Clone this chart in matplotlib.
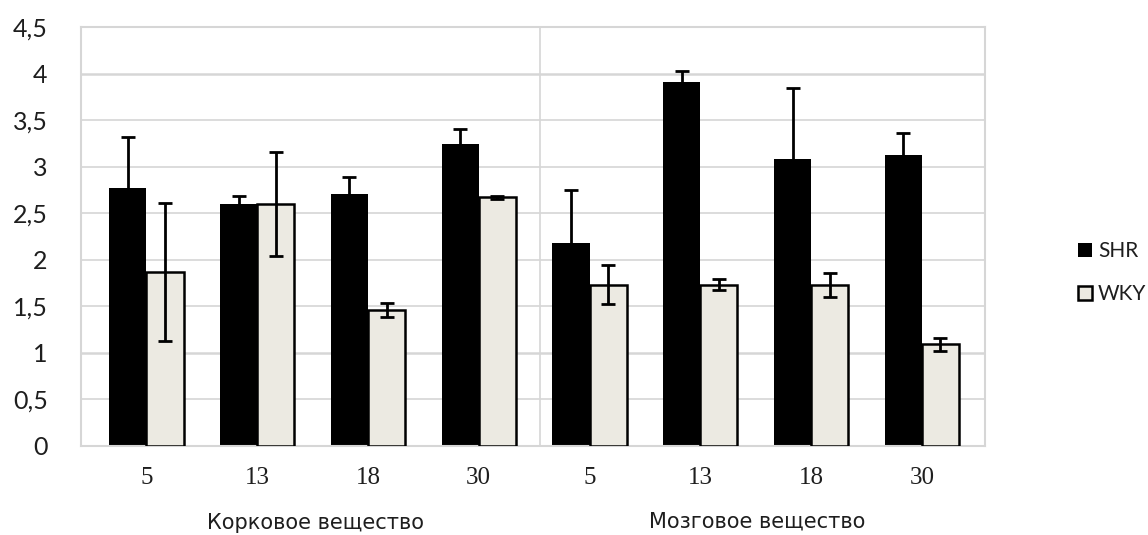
import matplotlib
matplotlib.use("Agg")
import matplotlib.pyplot as plt
import numpy as np

plt.rcParams['font.family'] = ['Lato', 'DejaVu Sans']

days = ["5", "13", "18", "30", "5", "13", "18", "30"]
groups = ["Корковое вещество", "Мозговое вещество"]
shr = [2.77, 2.60, 2.71, 3.24, 2.18, 3.91, 3.08, 3.12]
shr_err = [0.55, 0.08, 0.18, 0.16, 0.57, 0.12, 0.77, 0.24]
wky = [1.87, 2.60, 1.46, 2.67, 1.73, 1.73, 1.73, 1.09]
wky_err = [0.74, 0.56, 0.08, 0.02, 0.21, 0.06, 0.13, 0.07]
series = ["SHR", "WKY"]
yticks = [0, 0.5, 1, 1.5, 2, 2.5, 3, 3.5, 4, 4.5]
ytick_labels = ["0", "0,5", "1", "1,5", "2", "2,5", "3", "3,5", "4", "4,5"]

fig = plt.figure(figsize=(11.48, 5.35), dpi=100)
ax = fig.add_axes([0.0706, 0.1664, 0.7874, 0.7831])

x = np.arange(len(days))
w = 0.335
grid_c = "#d6d6d6"
text_c = "#1e1e1e"
ax.set_axisbelow(True)
for yv in yticks[1:]:
    ax.axhline(yv, color=grid_c, lw=1.8 if yv in (1, 4) else 1.2, zorder=0)

ekw = dict(ecolor="black", elinewidth=2, capsize=5, capthick=2)
ax.bar(x - w / 2, shr, w, color="black", edgecolor="black", lw=0, label=series[0],
       yerr=shr_err, error_kw=ekw, zorder=2)
ax.bar(x + w / 2, wky, w, color="#ECEAE2", edgecolor="black", lw=1.8, label=series[1],
       yerr=wky_err, error_kw=ekw, zorder=3)

ax.set_xlim(-0.59, 7.57)
ax.set_ylim(0, 4.5)
ax.axvline(3.55, color=grid_c, lw=1.2, zorder=0)

for s in ["top", "right", "left", "bottom"]:
    ax.spines[s].set_color(grid_c)
    ax.spines[s].set_linewidth(1.5)

ax.set_yticks(yticks)
ax.set_yticklabels(ytick_labels, fontsize=18, color=text_c)
ax.tick_params(axis="y", length=0, pad=24)
ax.set_xticks(x)
ax.set_xticklabels(days, fontsize=18, color=text_c, family=["Liberation Serif"])
ax.tick_params(axis="x", length=0, pad=15)

ax.text(1.53, -0.185, groups[0], transform=ax.get_xaxis_transform(), ha="center",
        va="center", fontsize=15, color=text_c, family=["DejaVu Sans"])
ax.text(5.51, -0.18, groups[1], transform=ax.get_xaxis_transform(), ha="center",
        va="center", fontsize=15, color=text_c, family=["DejaVu Sans"])

leg = fig.legend(loc="center left", bbox_to_anchor=(0.932, 0.49), frameon=False,
                 fontsize=15, handlelength=0.65, handleheight=0.65, handletextpad=0.3,
                 labelspacing=1.1, borderaxespad=0)
for t in leg.get_texts():
    t.set_color(text_c)

fig.savefig("out.png", dpi=100)
